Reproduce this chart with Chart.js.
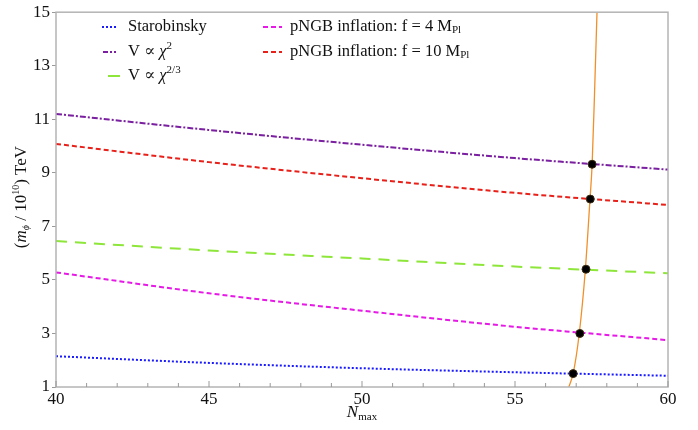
<!DOCTYPE html>
<html>
<head>
<meta charset="utf-8">
<script src="https://cdn.jsdelivr.net/npm/chart.js@4.4.1/dist/chart.umd.min.js"></script>
<style>
  html, body { margin: 0; padding: 0; background: #fff; }
</style>
</head>
<body>
<canvas id="myChart" width="698" height="430"></canvas>
<script>
// valores
const nMax = [40, 45, 50, 55, 60];
const starobinsky = [2.15, 1.9, 1.7, 1.55, 1.42];
const chiSquare = [11.2, 10.6, 10.05, 9.55, 9.12];
const chiTwoThirds = [6.45, 6.1, 5.8, 5.5, 5.25];
const pngbF4 = [5.28, 4.5, 3.85, 3.25, 2.75];
const pngbF10 = [10.08, 9.4, 8.8, 8.25, 7.8];

// curva naranja y cortes
const orangeN = [56.76, 56.9, 57.1, 57.3, 57.45, 57.52, 57.6, 57.68];
const orangeM = [1, 1.5, 3.0, 5.4, 8.0, 9.3, 12, 15];
const crossN = [56.9, 57.12, 57.32, 57.46, 57.52];
const crossM = [1.5, 3.0, 5.4, 8.02, 9.32];

const xTicks = [40, 45, 50, 55, 60];
const yTicks = [1, 3, 5, 7, 9, 11, 13, 15];

const SERIF = '"Liberation Serif", "DejaVu Serif", serif';

function pts(xs, ys) {
    return xs.map((x, i) => ({ x: x, y: ys[i] }));
}

function curve(data, color, dash) {
    return {
        data: data, showLine: true, borderColor: color, borderWidth: 2,
        borderDash: dash, pointRadius: 0, cubicInterpolationMode: 'monotone', fill: false
    };
}

// texto con sub/superindices
function richText(ctx, x, y, parts, align) {
    let w = 0;
    parts.forEach(p => {
        ctx.font = (p.it ? 'italic ' : '') + (p.size || 16.5) + 'px ' + SERIF;
        p.w = ctx.measureText(p.t).width;
        w += p.w;
    });
    let cx = align === 'center' ? x - w / 2 : x;
    parts.forEach(p => {
        ctx.font = (p.it ? 'italic ' : '') + (p.size || 16.5) + 'px ' + SERIF;
        ctx.fillText(p.t, cx, y + (p.dy || 0));
        cx += p.w;
    });
}

const legendItems = [
    { x: 102, y: 27, len: 16, color: '#1a1aff', dash: [2, 2], parts: [{ t: 'Starobinsky' }] },
    { x: 103, y: 52, len: 13, color: '#7a1fa0', dash: [5, 2, 2, 2], parts: [{ t: 'V ∝ ' }, { t: 'χ', it: true }, { t: '2', size: 11, dy: -6 }] },
    { x: 108, y: 76, len: 12, color: '#8ee63a', dash: [], parts: [{ t: 'V ∝ ' }, { t: 'χ', it: true }, { t: '2/3', size: 11, dy: -6 }] },
    { x: 263, y: 27, len: 19, color: '#e619e6', dash: [5, 3], parts: [{ t: 'pNGB inflation: f = 4 M' }, { t: 'Pl', size: 11, dy: 3 }] },
    { x: 263, y: 52, len: 19, color: '#e8201a', dash: [5, 3], parts: [{ t: 'pNGB inflation: f = 10 M' }, { t: 'Pl', size: 11, dy: 3 }] }
];

const decor = {
    id: 'decor',
    afterDraw(chart) {
        const ctx = chart.ctx;
        const a = chart.chartArea;
        const xs = chart.scales.x;
        ctx.save();
        // marco
        ctx.strokeStyle = '#b4b4b4';
        ctx.lineWidth = 1.5;
        ctx.strokeRect(a.left, a.top, a.right - a.left, a.bottom - a.top);
        // marcas del eje x hacia adentro
        ctx.lineWidth = 1;
        ctx.strokeStyle = '#9a9a9a';
        for (let n = 40; n <= 60; n++) {
            const px = xs.getPixelForValue(n);
            const len = n % 5 === 0 ? 6 : 4;
            ctx.beginPath();
            ctx.moveTo(px, a.bottom);
            ctx.lineTo(px, a.bottom - len);
            ctx.stroke();
        }
        // leyenda
        ctx.fillStyle = '#111';
        ctx.textBaseline = 'middle';
        legendItems.forEach(it => {
            ctx.strokeStyle = it.color;
            ctx.lineWidth = 2;
            ctx.setLineDash(it.dash);
            ctx.beginPath();
            ctx.moveTo(it.x, it.y);
            ctx.lineTo(it.x + it.len, it.y);
            ctx.stroke();
            ctx.setLineDash([]);
            richText(ctx, it.x < 200 ? 128 : 290, it.y, it.parts, 'left');
        });
        // titulo eje x
        ctx.textBaseline = 'alphabetic';
        richText(ctx, 362, 417, [{ t: 'N', it: true, size: 17 }, { t: 'max', size: 11, dy: 3 }], 'center');
        // titulo eje y
        ctx.translate(22, 197);
        ctx.rotate(-Math.PI / 2);
        ctx.textBaseline = 'middle';
        richText(ctx, 0, 0, [
            { t: '(' , size: 17 }, { t: 'm', it: true, size: 17 }, { t: 'ϕ', it: true, size: 10, dy: 4 },
            { t: ' / 10', size: 17 }, { t: '10', size: 10, dy: -6 }, { t: ') TeV', size: 17 }
        ], 'center');
        ctx.restore();
    }
};

const ctx = document.getElementById('myChart');
const myChart = new Chart(ctx, {
    type: 'scatter',
    plugins: [decor],
    data: {
        datasets: [
            {
                data: pts(crossN, crossM), pointRadius: 4, pointBackgroundColor: '#000',
                pointBorderColor: '#3a2a10', pointBorderWidth: 1, showLine: false
            },
            { data: pts(orangeN, orangeM), showLine: true, borderColor: '#f0902a', borderWidth: 1.3, pointRadius: 0, cubicInterpolationMode: 'monotone' },
            curve(pts(nMax, chiSquare), '#7a1fa0', [6, 2, 2, 2]),
            curve(pts(nMax, pngbF10), '#e8201a', [5, 3]),
            curve(pts(nMax, chiTwoThirds), '#8ee63a', [11, 8]),
            curve(pts(nMax, pngbF4), '#e619e6', [5, 3]),
            curve(pts(nMax, starobinsky), '#1a1aff', [2, 2])
        ]
    },
    options: {
        responsive: false,
        animation: false,
        devicePixelRatio: 1,
        layout: { padding: { top: 7, right: 30, left: 0, bottom: 0 } },
        plugins: { legend: { display: false }, tooltip: { enabled: false } },
        scales: {
            x: {
                type: 'linear', min: 40, max: 60,
                afterBuildTicks: s => { s.ticks = xTicks.map(v => ({ value: v })); },
                afterFit: s => { s.height = 43; },
                grid: { display: false },
                border: { display: false },
                ticks: { color: '#111', padding: -6, maxRotation: 0, autoSkip: false, font: { family: SERIF, size: 17 } }
            },
            y: {
                min: 1, max: 15,
                afterBuildTicks: s => { s.ticks = yTicks.map(v => ({ value: v })); },
                afterFit: s => { s.width = 56; },
                grid: { display: true, drawOnChartArea: false, drawTicks: true, tickLength: 4, color: '#9a9a9a' },
                border: { display: false },
                ticks: { color: '#111', padding: 2, autoSkip: false, font: { family: SERIF, size: 17 } }
            }
        }
    }
});
</script>
</body>
</html>
